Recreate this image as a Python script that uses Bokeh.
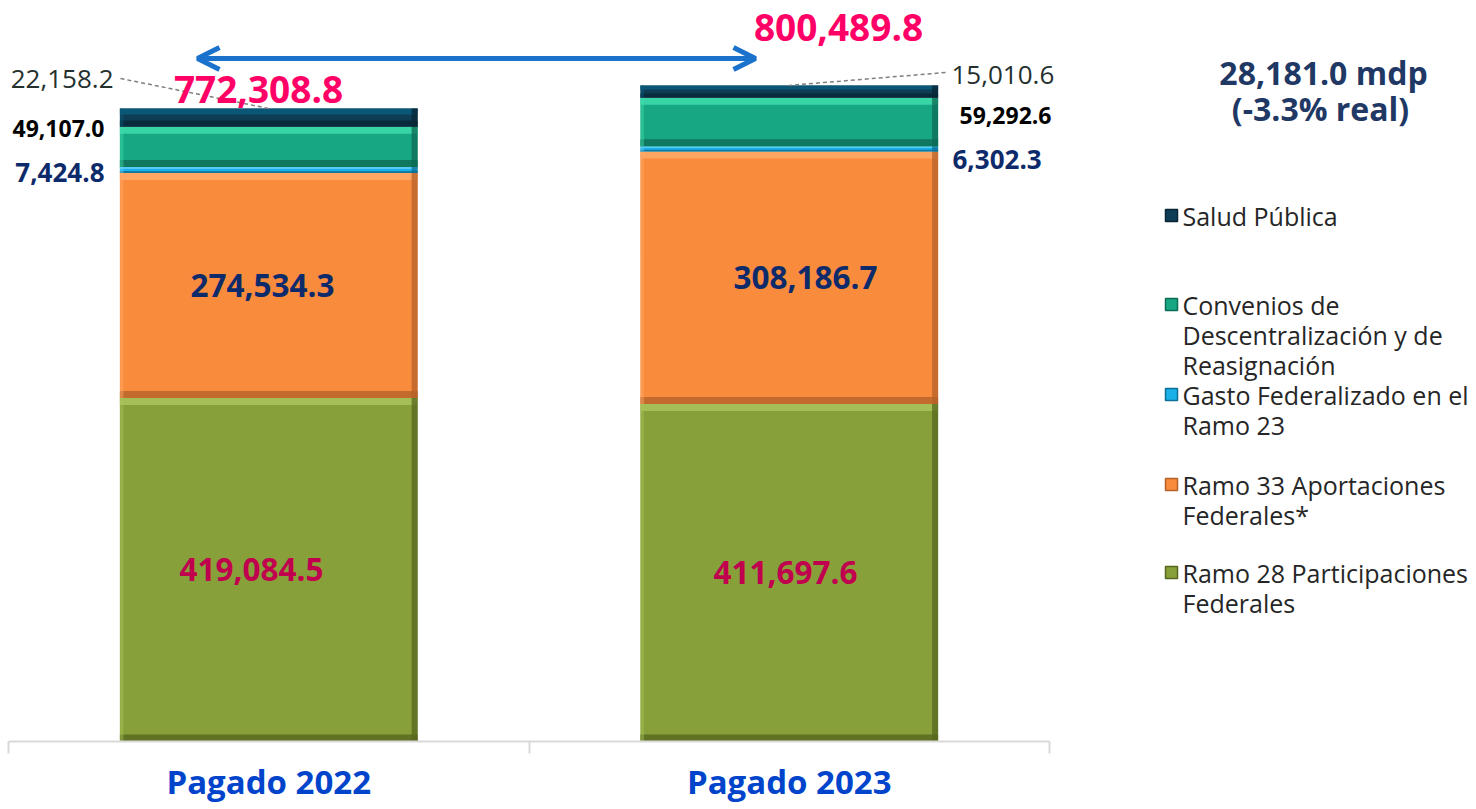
from bokeh.plotting import figure
from bokeh.models import Range1d, FixedTicker, Arrow, OpenHead
from bokeh.core.properties import value
from bokeh.embed import file_html
from bokeh.resources import INLINE

# ---------------- data ----------------
categories = ["Pagado 2022", "Pagado 2023"]
ramo28 = [419084.5, 411697.6]
ramo33 = [274534.3, 308186.7]
gasto23 = [7424.8, 6302.3]
convenios = [49107.0, 59292.6]
salud = [22158.2, 15010.6]
totals = [772308.8, 800489.8]
diferencia = "28,181.0 mdp"
variacion = "(-3.3% real)"

legend_lines = [["Salud Pública"],
                ["Convenios de", "Descentralización y de", "Reasignación"],
                ["Gasto Federalizado en el", "Ramo 23"],
                ["Ramo 33 Aportaciones", "Federales*"],
                ["Ramo 28 Participaciones", "Federales"]]

# stacking order bottom -> top
series_values = [ramo28, ramo33, gasto23, convenios, salud]
# base, light, dark
series_colors = [("#88A03A", "#A9C45C", "#56671F"),
                 ("#F98B3D", "#FDAA68", "#B5612A"),
                 ("#1AB0E8", "#63D0F4", "#0E6F94"),
                 ("#17A883", "#40DCAB", "#0E6B55"),
                 ("#0D3D55", "#0B5A7C", "#092636")]

FONT = "Open Sans"
FRAME_H = 741
FRAME_W = 1468
UNIT_PX = 520.5            # pixels per category
PX = 633 / totals[0]       # pixels per value unit
Y_END = FRAME_H / PX
X_END = FRAME_W / UNIT_PX
xs = [0.5, 1.5]
W = 0.572

p = figure(width=1476, height=806, x_range=Range1d(0, X_END), y_range=Range1d(0, Y_END),
           output_backend="svg", toolbar_location=None, y_axis_location=None,
           min_border_left=8, min_border_right=0, min_border_top=0, min_border_bottom=0,
           frame_height=FRAME_H, frame_width=FRAME_W)
p.outline_line_color = None
p.xgrid.visible = False
p.ygrid.visible = False

ax = p.xaxis[0]
ax.bounds = (0, 2)
ax.ticker = FixedTicker(ticks=[0.5, 1.5], minor_ticks=[0, 1, 2])
ax.major_label_overrides = {0.5: categories[0], 1.5: categories[1]}
ax.major_tick_line_color = None
ax.major_tick_in = 0
ax.major_tick_out = 0
ax.minor_tick_in = 0
ax.minor_tick_out = 12
ax.minor_tick_line_color = "#D9D9D9"
ax.minor_tick_line_width = 2
ax.axis_line_color = "#D9D9D9"
ax.axis_line_width = 2
ax.major_label_text_font = FONT
ax.major_label_text_font_style = "bold"
ax.major_label_text_font_size = "33px"
ax.major_label_text_color = "#0044CC"
ax.major_label_standoff = 5


def px(page_x):
    return (page_x - 8) / UNIT_PX


def py(page_y):
    return (FRAME_H - page_y) / PX


# ---------------- stacked bars with bevel look ----------------
EDGE = 6 / UNIT_PX
bottoms = [0.0, 0.0]
for vals, (base, light, dark) in zip(series_values, series_colors):
    tops = [b + v for b, v in zip(bottoms, vals)]
    left = [x - W / 2 for x in xs]
    right = [x + W / 2 for x in xs]
    band = [min(7 / PX, v / 3) for v in vals]
    p.quad(left=left, right=right, bottom=bottoms, top=tops, fill_color=base, line_color=None)
    p.quad(left=left, right=right, bottom=[t - h for t, h in zip(tops, band)], top=tops,
           fill_color=light, line_color=None, fill_alpha=0.85)
    p.quad(left=left, right=right, bottom=bottoms, top=[b + h for b, h in zip(bottoms, band)],
           fill_color=dark, line_color=None, fill_alpha=0.8)
    p.quad(left=[r - EDGE for r in right], right=right, bottom=bottoms, top=tops,
           fill_color=dark, line_color=None, fill_alpha=0.75)
    p.quad(left=left, right=[l + EDGE * 0.6 for l in left], bottom=bottoms, top=tops,
           fill_color=light, line_color=None, fill_alpha=0.45)
    bottoms = tops


def fmt(v):
    return f"{v:,.1f}"


def lab(x, y, text, size, color, bold=True, align="center"):
    p.text(x=[x], y=[y], text=[text], text_font=value(FONT), text_font_size=size,
           text_color=color, text_font_style="bold" if bold else "normal",
           text_align=align, text_baseline="middle")


# leader lines for Salud Pública
p.segment(x0=[px(120), px(945)], y0=[py(78), py(72)], x1=xs, y1=totals,
          line_color="#7F7F7F", line_width=1.5, line_dash="4 3")

# inner labels
m33 = [r28 + v / 2 for r28, v in zip(ramo28, ramo33)]
m28 = [v / 2 for v in ramo28]
lab(px(262), m33[0], fmt(ramo33[0]), "31.5px", "#0D2A6B")
lab(px(805), m33[1], fmt(ramo33[1]), "31.5px", "#0D2A6B")
lab(px(251), m28[0], fmt(ramo28[0]), "31.5px", "#C0004E")
lab(px(785), m28[1], fmt(ramo28[1]), "31.5px", "#C0004E")

# outside labels bar 1
lab(px(113), py(78), fmt(salud[0]), "26px", "#24302E", bold=False, align="right")
lab(px(104), py(128), fmt(convenios[0]), "23px", "#000000", align="right")
lab(px(104), py(172), fmt(gasto23[0]), "26px", "#0D2A6B", align="right")
# outside labels bar 2
lab(px(951), py(74), fmt(salud[1]), "26px", "#24302E", bold=False, align="left")
lab(px(959), py(115), fmt(convenios[1]), "23px", "#000000", align="left")
lab(px(952), py(159), fmt(gasto23[1]), "26px", "#0D2A6B", align="left")

# totals
lab(px(258), py(89), fmt(totals[0]), "37px", "#FF0066")
lab(px(838), py(27), fmt(totals[1]), "37px", "#FF0066")

# double arrow
p.add_layout(Arrow(start=OpenHead(size=22, line_color="#1B72CC", line_width=5),
                   end=OpenHead(size=22, line_color="#1B72CC", line_width=5),
                   x_start=px(197), y_start=py(58), x_end=px(755), y_end=py(58),
                   line_color="#1B72CC", line_width=5))

# ---------------- variation text ----------------
lab(px(1323), py(72), diferencia, "32px", "#1F3864")
lab(px(1320), py(108), variacion, "32px", "#1F3864")

# ---------------- legend ----------------
legend_y = [215, 304, 394, 484, 572]
legend_colors = [series_colors[4], series_colors[3], series_colors[2], series_colors[1], series_colors[0]]
for lines, y0, (base, light, dark) in zip(legend_lines, legend_y, legend_colors):
    p.scatter(x=[px(1171)], y=[py(y0)], marker="square", size=12, fill_color=base,
              line_color=dark, line_width=1.5)
    for k, t in enumerate(lines):
        lab(px(1182), py(y0 + 30 * k), t, "25px", "#262626", bold=False, align="left")

open("out.html", "w").write(file_html(p, INLINE))
